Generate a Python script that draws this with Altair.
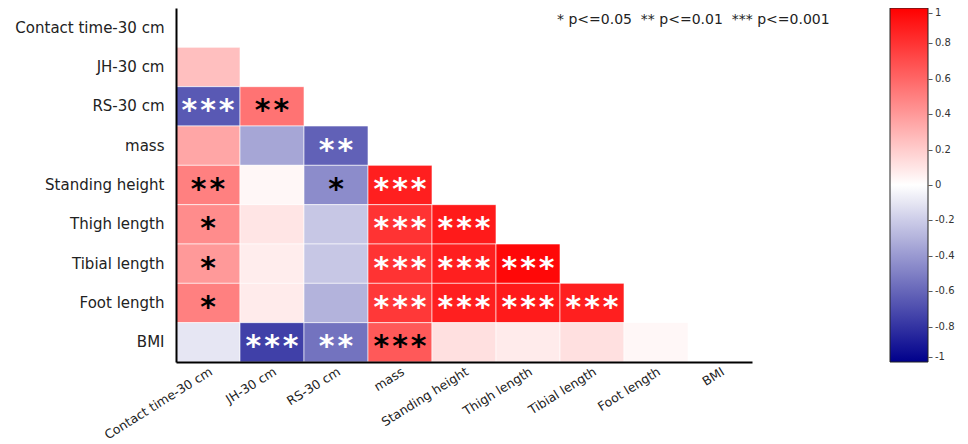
import altair as alt
import pandas as pd

variables = ["Contact time-30 cm", "JH-30 cm", "RS-30 cm", "mass", "Standing height",
             "Thigh length", "Tibial length", "Foot length", "BMI"]

# lower-triangle correlations, one list per row (columns in variable order)
r_jh = [0.25]
r_rs = [-0.65, 0.55]
r_mass = [0.35, -0.35, -0.62]
r_standing = [0.50, 0.03, -0.45, 0.88]
r_thigh = [0.45, 0.10, -0.22, 0.80, 0.90]
r_tibial = [0.40, 0.07, -0.22, 0.80, 0.88, 0.97]
r_foot = [0.50, 0.08, -0.30, 0.78, 0.88, 0.90, 0.88]
r_bmi = [-0.10, -0.75, -0.55, 0.65, 0.12, 0.08, 0.12, 0.03]

# significance stars per cell
s_jh = [""]
s_rs = ["***", "**"]
s_mass = ["", "", "**"]
s_standing = ["**", "", "*", "***"]
s_thigh = ["*", "", "", "***", "***"]
s_tibial = ["*", "", "", "***", "***", "***"]
s_foot = ["*", "", "", "***", "***", "***", "***"]
s_bmi = ["", "***", "**", "***", "", "", "", ""]

legend_values = [1, 0.8, 0.6, 0.4, 0.2, 0, -0.2, -0.4, -0.6, -0.8, -1]
note_parts = ["* p<=0.05", "** p<=0.01", "*** p<=0.001"]

rows_r = [r_jh, r_rs, r_mass, r_standing, r_thigh, r_tibial, r_foot, r_bmi]
rows_s = [s_jh, s_rs, s_mass, s_standing, s_thigh, s_tibial, s_foot, s_bmi]

records = []
for i, (rv, sv) in enumerate(zip(rows_r, rows_s)):
    row_name = variables[i + 1]
    for j, (r, s) in enumerate(zip(rv, sv)):
        records.append({"row": row_name, "col": variables[j], "r": r,
                        "stars": "\u200a".join(list(s))})
df = pd.DataFrame(records)

font = "DejaVu Sans"

x_enc = alt.X("col:N", sort=variables, scale=alt.Scale(domain=variables),
              axis=alt.Axis(title=None, labelAngle=-32, labelAlign="right",
                            labelBaseline="top", ticks=False, labelPadding=3,
                            labelFontSize=12.5, labelFont=font, labelColor="#222",
                            domainColor="black", domainWidth=2))
y_enc = alt.Y("row:N", sort=variables, scale=alt.Scale(domain=variables),
              axis=alt.Axis(title=None, ticks=False, labelPadding=12,
                            labelFontSize=15, labelFont=font, labelColor="#222",
                            domainColor="black", domainWidth=2))

rects = alt.Chart(df).mark_rect(stroke="white", strokeWidth=0.6).encode(
    x=x_enc, y=y_enc,
    color=alt.Color("r:Q",
                    scale=alt.Scale(domain=[-1, 0, 1],
                                    range=["#00008B", "#FFFFFF", "#FF0000"],
                                    interpolate="rgb"),
                    legend=alt.Legend(title=None, orient="none", legendX=714, legendY=0,
                                      direction="vertical", gradientLength=354,
                                      gradientThickness=38, values=legend_values,
                                      gradientStrokeColor="#222", gradientStrokeWidth=1,
                                      labelFont=font, labelFontSize=10, labelColor="#333",
                                      labelExpr="'\u2013\u2009' + replace(format(datum.value, '~g'), '\u2212', '-')",
                                      labelOffset=0)),
)

texts = alt.Chart(df).mark_text(font=font, fontSize=30, fontWeight="bold",
                                baseline="alphabetic", dy=14).encode(
    x=alt.X("col:N", sort=variables), y=alt.Y("row:N", sort=variables),
    text="stars:N",
    color=alt.condition("datum.r <= -0.5 || datum.r >= 0.75",
                        alt.value("white"), alt.value("black")),
)

note_df = pd.DataFrame({"t": ["\u00a0\u00a0".join(note_parts)]})
note_mark = alt.Chart(note_df).mark_text(font=font, fontSize=14, align="left",
                                         baseline="middle", color="#222").encode(
    x=alt.value(381), y=alt.value(12), text="t:N")

chart = alt.layer(rects, texts, note_mark).properties(
    width=576, height=354,
    autosize=alt.AutoSizeParams(type="none"),
    padding={"left": 168, "top": 0, "right": 208, "bottom": 82},
).configure_view(strokeWidth=0).configure_axis(grid=False)

chart.save("out.html", embed_options={"renderer": "svg", "actions": False})
